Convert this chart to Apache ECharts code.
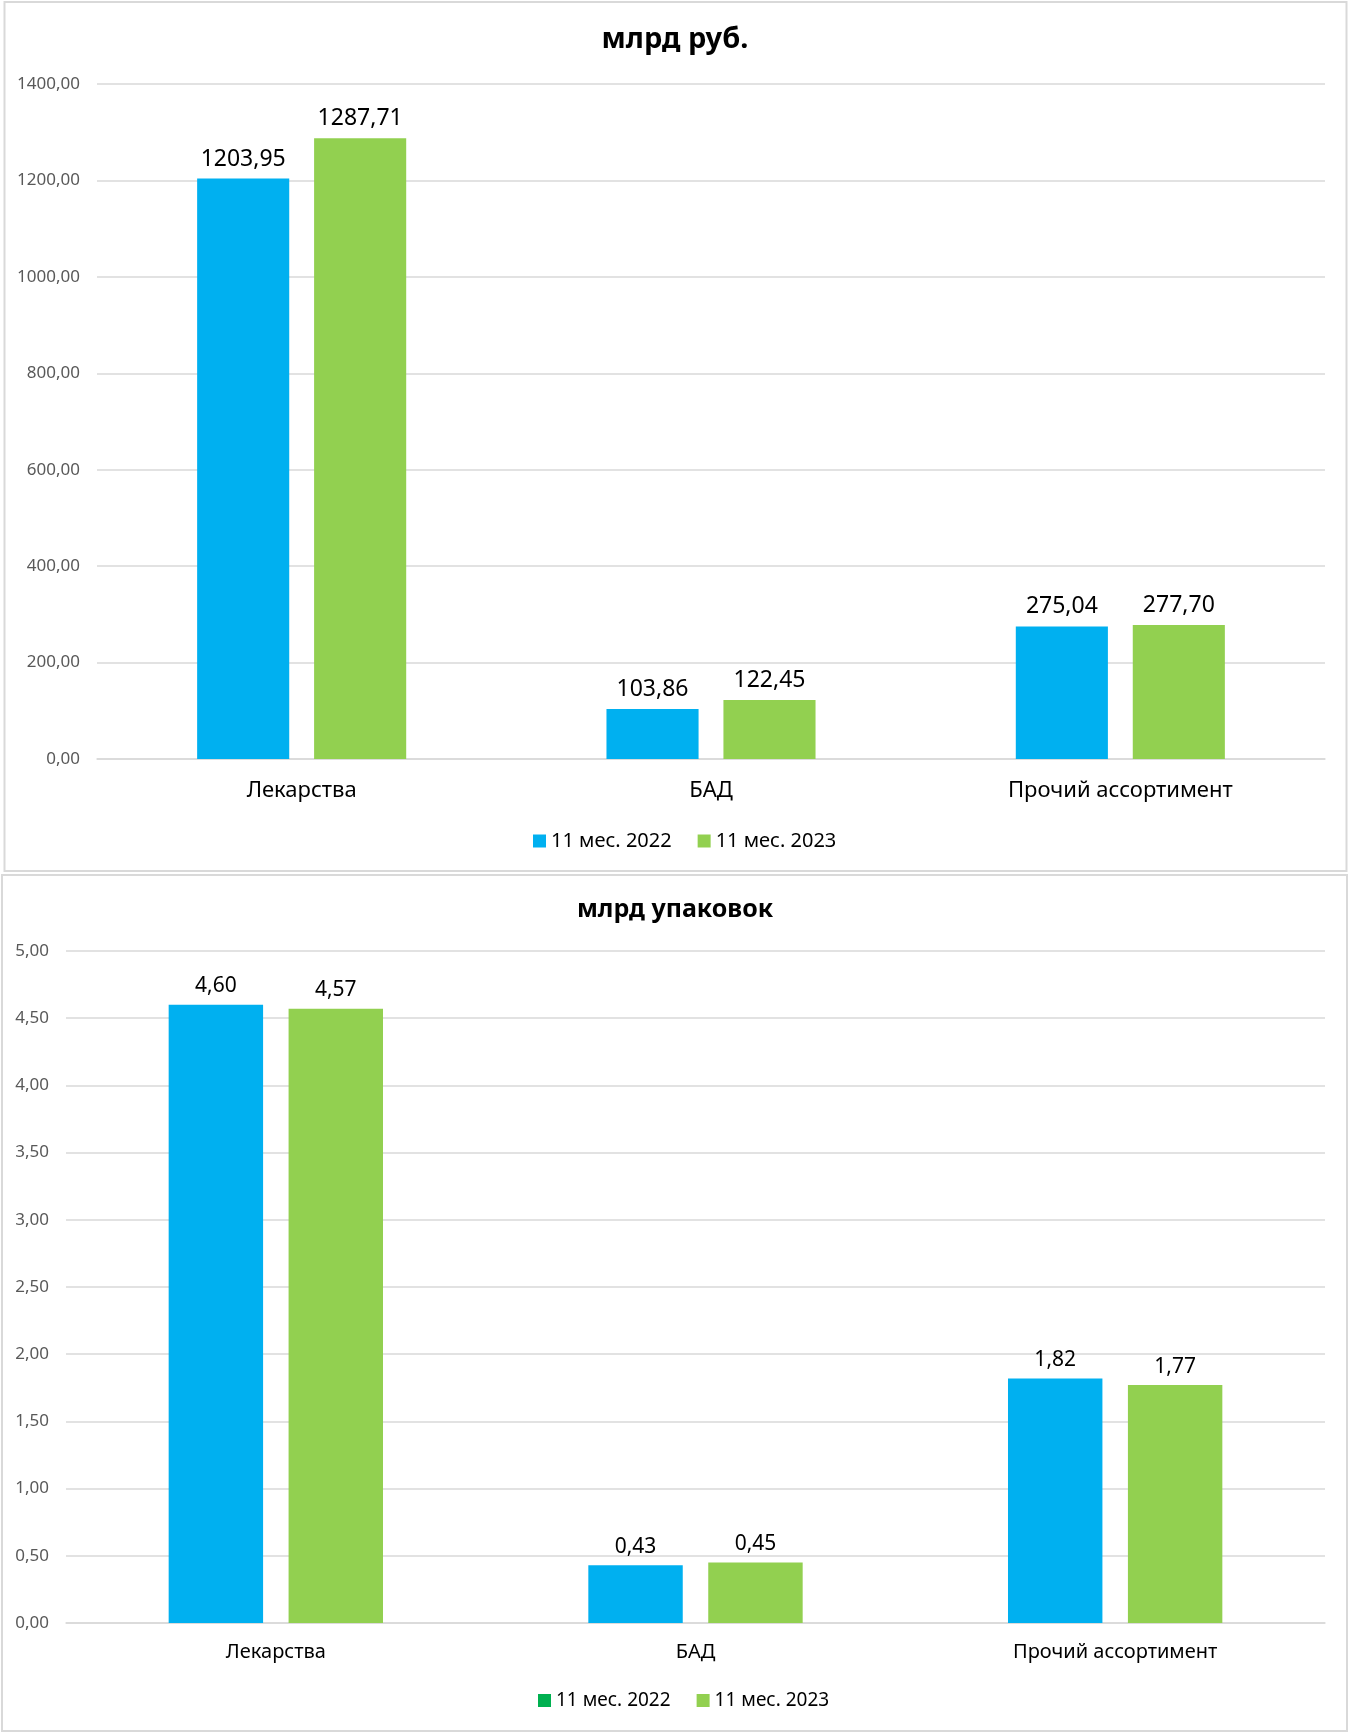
<!DOCTYPE html>
<html><head><meta charset="utf-8">
<script src="https://cdn.jsdelivr.net/npm/echarts@6/dist/echarts.min.js"></script>
<style>html,body{margin:0;padding:0;background:#fff}#c{width:1350px;height:1733px}</style>
</head><body><div id="c"></div>
<script>
const categories = ['Лекарства', 'БАД', 'Прочий ассортимент'];
const seriesNames = ['11 мес. 2022', '11 мес. 2023'];
const rub2022 = [1203.95, 103.86, 275.04];
const rub2023 = [1287.71, 122.45, 277.70];
const pack2022 = [4.60, 0.43, 1.82];
const pack2023 = [4.57, 0.45, 1.77];
const title1 = 'млрд руб.';
const title2 = 'млрд упаковок';

const BLUE = '#00B0F0', GREEN = '#92D050', DARKGREEN = '#00B050';
const FONT = 'Noto Sans';
const fmt = v => Number(v).toFixed(2).replace('.', ',');

const chart = echarts.init(document.getElementById('c'));
function bar(name, data, color, xi, fs, dist) {
  return {
    type: 'bar', name, data, xAxisIndex: xi, yAxisIndex: xi,
    barWidth: '22.5%', barGap: '27%',
    itemStyle: { color },
    label: { show: true, position: 'top', distance: dist, color: '#000', fontSize: fs, fontFamily: FONT,
      formatter: p => fmt(p.value) },
    emphasis: { disabled: true }
  };
}
chart.setOption({
  animation: false,
  textStyle: { fontFamily: FONT },
  graphic: [
    { type: 'rect', shape: { x: 4.5, y: 2, width: 1342, height: 869 }, style: { fill: 'none', stroke: '#d9d9d9', lineWidth: 2 }, silent: true },
    { type: 'rect', shape: { x: 2, y: 875, width: 1345, height: 856 }, style: { fill: 'none', stroke: '#d9d9d9', lineWidth: 2 }, silent: true }
  ],
  title: [
    { text: title1, left: 'center', top: 20, textStyle: { fontSize: 29, fontWeight: 'bold', color: '#000', fontFamily: FONT } },
    { text: title2, left: 'center', top: 892, textStyle: { fontSize: 25, fontWeight: 'bold', color: '#000', fontFamily: FONT } }
  ],
  legend: [
    { data: seriesNames, top: 826, left: 528, itemWidth: 13, itemHeight: 13, itemGap: 26, icon: 'rect',
      textStyle: { fontSize: 20, color: '#000', fontFamily: FONT }, selectedMode: false },
    { data: [{ name: seriesNames[0], itemStyle: { color: DARKGREEN } }, { name: seriesNames[1] }], top: 1686, left: 533,
      itemWidth: 13, itemHeight: 13, itemGap: 26, icon: 'rect',
      textStyle: { fontSize: 19, color: '#000', fontFamily: FONT }, selectedMode: false }
  ],
  grid: [
    { left: 97, right: 25, top: 84, height: 675 },
    { left: 66, right: 25, top: 951, height: 672 }
  ],
  xAxis: [
    { type: 'category', data: categories, gridIndex: 0,
      axisLine: { lineStyle: { color: '#d9d9d9', width: 1.5 } }, axisTick: { show: false },
      axisLabel: { color: '#000', fontSize: 22, margin: 21, fontFamily: FONT } },
    { type: 'category', data: categories, gridIndex: 1,
      axisLine: { lineStyle: { color: '#d9d9d9', width: 1.5 } }, axisTick: { show: false },
      axisLabel: { color: '#000', fontSize: 20, margin: 19, fontFamily: FONT } }
  ],
  yAxis: [
    { type: 'value', gridIndex: 0, min: 0, max: 1400, interval: 200,
      axisLine: { show: false }, axisTick: { show: false },
      splitLine: { lineStyle: { color: '#d9d9d9', width: 1.5 } },
      axisLabel: { color: '#595959', fontSize: 17, margin: 17, formatter: v => fmt(v), fontFamily: FONT } },
    { type: 'value', gridIndex: 1, min: 0, max: 5, interval: 0.5,
      axisLine: { show: false }, axisTick: { show: false },
      splitLine: { lineStyle: { color: '#d9d9d9', width: 1.5 } },
      axisLabel: { color: '#595959', fontSize: 17, margin: 17, formatter: v => fmt(v), fontFamily: FONT } }
  ],
  series: [
    bar(seriesNames[0], rub2022, BLUE, 0, 23, 8),
    bar(seriesNames[1], rub2023, GREEN, 0, 23, 8),
    bar(seriesNames[0], pack2022, BLUE, 1, 21, 8),
    bar(seriesNames[1], pack2023, GREEN, 1, 21, 8)
  ]
});
</script></body></html>
